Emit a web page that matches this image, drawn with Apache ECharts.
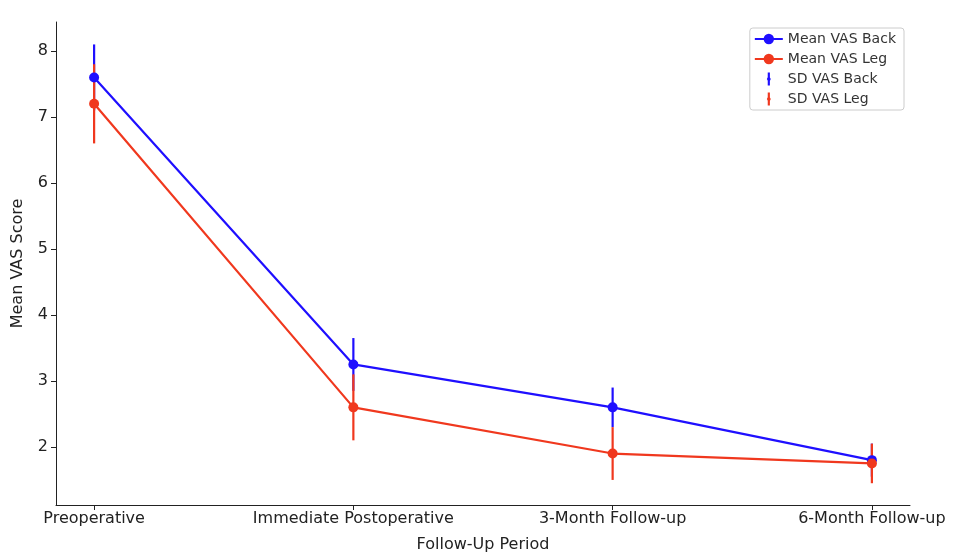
<!DOCTYPE html>
<html><head><meta charset="utf-8">
<script src="https://cdn.jsdelivr.net/npm/echarts@6/dist/echarts.min.js"></script>
<style>body{margin:0}#c{width:968px;height:558px}</style></head>
<body><div id="c"></div>
<script>
const categories = ['Preoperative','Immediate Postoperative','3-Month Follow-up','6-Month Follow-up'];
const meanBack = [7.6, 3.25, 2.6, 1.8];
const sdBack = [0.5, 0.4, 0.3, 0.25];
const meanLeg = [7.2, 2.6, 1.9, 1.75];
const sdLeg = [0.6, 0.5, 0.4, 0.3];
const yTicks = [2,3,4,5,6,7,8];
const BLUE = '#1f0fff', RED = '#f0381e';
const font = 'DejaVu Sans';
function pts(m){return m.map((v,i)=>[i,v]);}
function errData(m,s){return m.map((v,i)=>[i,v-s[i],v+s[i]]);}
function errSeries(name,m,s,color){
  return {name,type:'custom',z:3,data:errData(m,s),
    renderItem:(p,api)=>{const a=api.coord([api.value(0),api.value(1)]),b=api.coord([api.value(0),api.value(2)]);
      return {type:'line',shape:{x1:a[0],y1:a[1],x2:b[0],y2:b[1]},style:{stroke:color,lineWidth:2.2}};},
    encode:{x:0,y:[1,2]}};
}
const errIcon='path://M4,0L6,0L6,4.5A2,2 0 0 1 6,7.5L6,12L4,12L4,7.5A2,2 0 0 1 4,4.5Z';
const chart=echarts.init(document.getElementById('c'));
chart.setOption({
  animation:false,
  textStyle:{fontFamily:font},
  grid:{left:56,right:58,top:22,bottom:52},
  xAxis:{type:'value',min:-0.147,max:3.147,
    name:'Follow-Up Period',nameLocation:'middle',nameGap:32,nameTextStyle:{fontSize:16,color:'#222'},
    axisLine:{onZero:false,lineStyle:{color:'#222'}},
    splitLine:{show:false},
    axisLabel:{fontSize:16,color:'#222',margin:6,hideOverlap:false,
      customValues:[0,1,2,3],formatter:v=>categories[Math.round(v)]},
    axisTick:{customValues:[0,1,2,3],length:5,lineStyle:{color:'#222'}}},
  yAxis:{type:'value',min:1.12,max:8.44,
    name:'Mean VAS Score',nameLocation:'middle',nameGap:30,nameTextStyle:{fontSize:16,color:'#222'},
    axisLine:{show:true,onZero:false,lineStyle:{color:'#222'}},
    axisTick:{show:true,customValues:yTicks,length:5,lineStyle:{color:'#222'}},
    axisLabel:{customValues:yTicks,fontSize:16,color:'#222',margin:8},
    splitLine:{show:false}},
  legend:{right:64,top:28,orient:'vertical',itemGap:6,itemWidth:28,itemHeight:13,
    backgroundColor:'#fff',borderColor:'#ccc',borderWidth:1,borderRadius:3,padding:[4,8,4,4],
    textStyle:{fontSize:14,color:'#333'},
    data:[{name:'Mean VAS Back'},{name:'Mean VAS Leg'},
      {name:'SD VAS Back',icon:errIcon,itemStyle:{color:BLUE}},
      {name:'SD VAS Leg',icon:errIcon,itemStyle:{color:RED}}]},
  series:[
    errSeries('SD VAS Back',meanBack,sdBack,BLUE),
    {name:'Mean VAS Back',type:'line',z:4,data:pts(meanBack),color:BLUE,symbol:'circle',symbolSize:10,lineStyle:{width:2.2}},
    errSeries('SD VAS Leg',meanLeg,sdLeg,RED),
    {name:'Mean VAS Leg',type:'line',z:5,data:pts(meanLeg),color:RED,symbol:'circle',symbolSize:10,lineStyle:{width:2.2}}
  ]
});
</script></body></html>
